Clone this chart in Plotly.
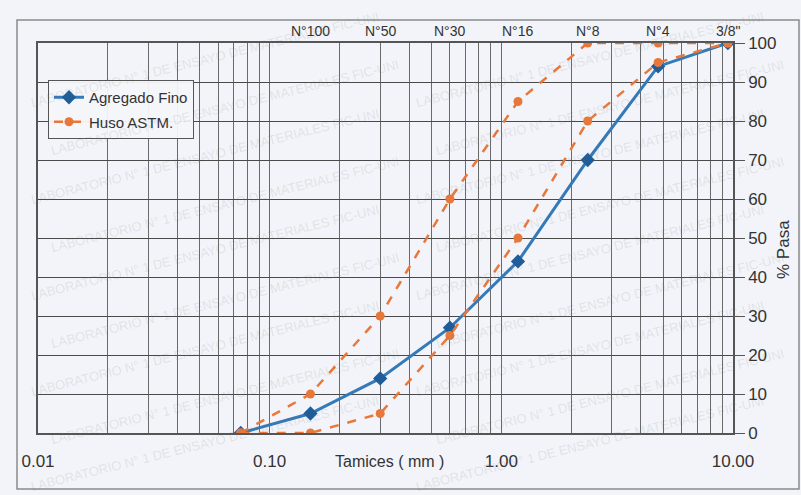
import plotly.graph_objects as go
import math

# ---- data ----
sizes = [0.075, 0.15, 0.3, 0.6, 1.18, 2.36, 4.75, 9.5]
fino = [0, 5, 14, 27, 44, 70, 94, 100]
huso_sup = [0, 10, 30, 60, 85, 100, 100, 100]
huso_inf = [0, 0, 5, 25, 50, 80, 95, 100]

sieve_sizes = [0.15, 0.3, 0.6, 1.18, 2.36, 4.75, 9.5]
sieve_names = ["N°100", "N°50", "N°30", "N°16", "N°8", "N°4", "3/8\""]

x_tickvals = [0.01, 0.1, 1, 10]
x_ticktext = ["0.01", "0.10", "1.00", "10.00"]
y_tickvals = list(range(0, 101, 10))

FONT = "Liberation Sans Narrow, Liberation Sans, Arial, sans-serif"
BLUE = "#3479b8"
BLUE_M = "#1f5d99"
ORANGE = "#e8783a"
GRID = "#6a6a6a"
BG = "#f2f4f9"

fig = go.Figure()

fig.add_trace(go.Scatter(
    x=sizes, y=fino, name="Agregado Fino", mode="lines+markers",
    line=dict(color=BLUE, width=3),
    marker=dict(symbol="diamond", size=11, color=BLUE_M),
))
fig.add_trace(go.Scatter(
    x=sizes, y=huso_sup, name="Huso ASTM.", mode="lines+markers",
    legendgroup="huso",
    line=dict(color=ORANGE, width=2.5, dash="dash"),
    marker=dict(symbol="circle", size=9, color=ORANGE),
))
fig.add_trace(go.Scatter(
    x=sizes, y=huso_inf, name="Huso ASTM.", mode="lines+markers",
    legendgroup="huso", showlegend=False,
    line=dict(color=ORANGE, width=2.5, dash="dash"),
    marker=dict(symbol="circle", size=9, color=ORANGE),
))

annotations = []
# faint scan watermark (drawn first, under other texts)
wm = "LABORATORIO N° 1 DE ENSAYO DE MATERIALES FIC-UNI"
for row in range(9):
    for col in range(2):
        px = 205 + col * 385 + (20 if row % 2 else 0)
        py = 60 + row * 48
        annotations.append(dict(
            x=(px - 38) / 695, y=(433 - py) / 390,
            xref="paper", yref="paper", xanchor="center", yanchor="middle",
            text=wm, showarrow=False, textangle=-14,
            font=dict(family=FONT, size=13, color="rgba(110,110,110,0.15)"),
        ))
# sieve labels along the top
for s, n in zip(sieve_sizes, sieve_names):
    annotations.append(dict(
        x=math.log10(s), y=1.0, xref="x", yref="paper",
        xanchor="center", yanchor="bottom", yshift=2, text=n, showarrow=False,
        font=dict(family=FONT, size=14, color="#333333"),
    ))
# axis titles
annotations.append(dict(
    x=(389 - 38) / 695, y=-(461 - 433) / 390, xref="paper", yref="paper",
    xanchor="center", yanchor="middle",
    text="Tamices ( mm )", showarrow=False,
    font=dict(family=FONT, size=16, color="#333333"),
))
annotations.append(dict(
    x=(783 - 38) / 695, y=(433 - 250) / 390, xref="paper", yref="paper",
    xanchor="center", yanchor="middle",
    text="% Pasa", textangle=-90, showarrow=False,
    font=dict(family=FONT, size=17, color="#333333"),
))

fig.update_layout(
    width=801, height=495,
    margin=dict(l=38, r=68, t=43, b=62),
    paper_bgcolor=BG, plot_bgcolor=BG,
    font=dict(family=FONT, size=16, color="#333333"),
    showlegend=True,
    legend=dict(
        x=(48 - 38) / 695, y=(433 - 80) / 390, xanchor="left", yanchor="top",
        bgcolor="rgba(243,245,250,0.95)", bordercolor="#555555", borderwidth=1,
        font=dict(family=FONT, size=15, color="#333333"),
        tracegroupgap=2,
    ),
    annotations=annotations,
    shapes=[dict(
        type="rect", xref="paper", yref="paper",
        x0=(17 - 38) / 695, x1=(799 - 38) / 695,
        y0=(433 - 489) / 390, y1=(433 - 20) / 390,
        line=dict(color="#8a8a8a", width=1.5), layer="below",
    )],
)

fig.update_xaxes(
    type="log", range=[-2, 1],
    tickvals=x_tickvals, ticktext=x_ticktext,
    ticks="", ticklabelstandoff=12,
    tickfont=dict(family=FONT, size=17, color="#333333"),
    showgrid=True, gridcolor=GRID, gridwidth=1,
    minor=dict(dtick="D1", showgrid=True, gridcolor=GRID, gridwidth=0.8),
    showline=True, linecolor="#555555", linewidth=1.5, mirror=True,
    zeroline=False,
)
fig.update_yaxes(
    range=[0, 100], side="right",
    tickvals=y_tickvals,
    ticks="outside", ticklen=10, tickcolor="#555555",
    tickfont=dict(family=FONT, size=17, color="#333333"),
    showgrid=True, gridcolor="#4a4a4a", gridwidth=1.3,
    showline=True, linecolor="#555555", linewidth=1.5, mirror=True,
    zeroline=False,
)

fig.write_html(
    "out.html",
    config={"displayModeBar": False},
    post_script="document.body.style.margin='0';document.body.style.overflow='hidden';",
)
